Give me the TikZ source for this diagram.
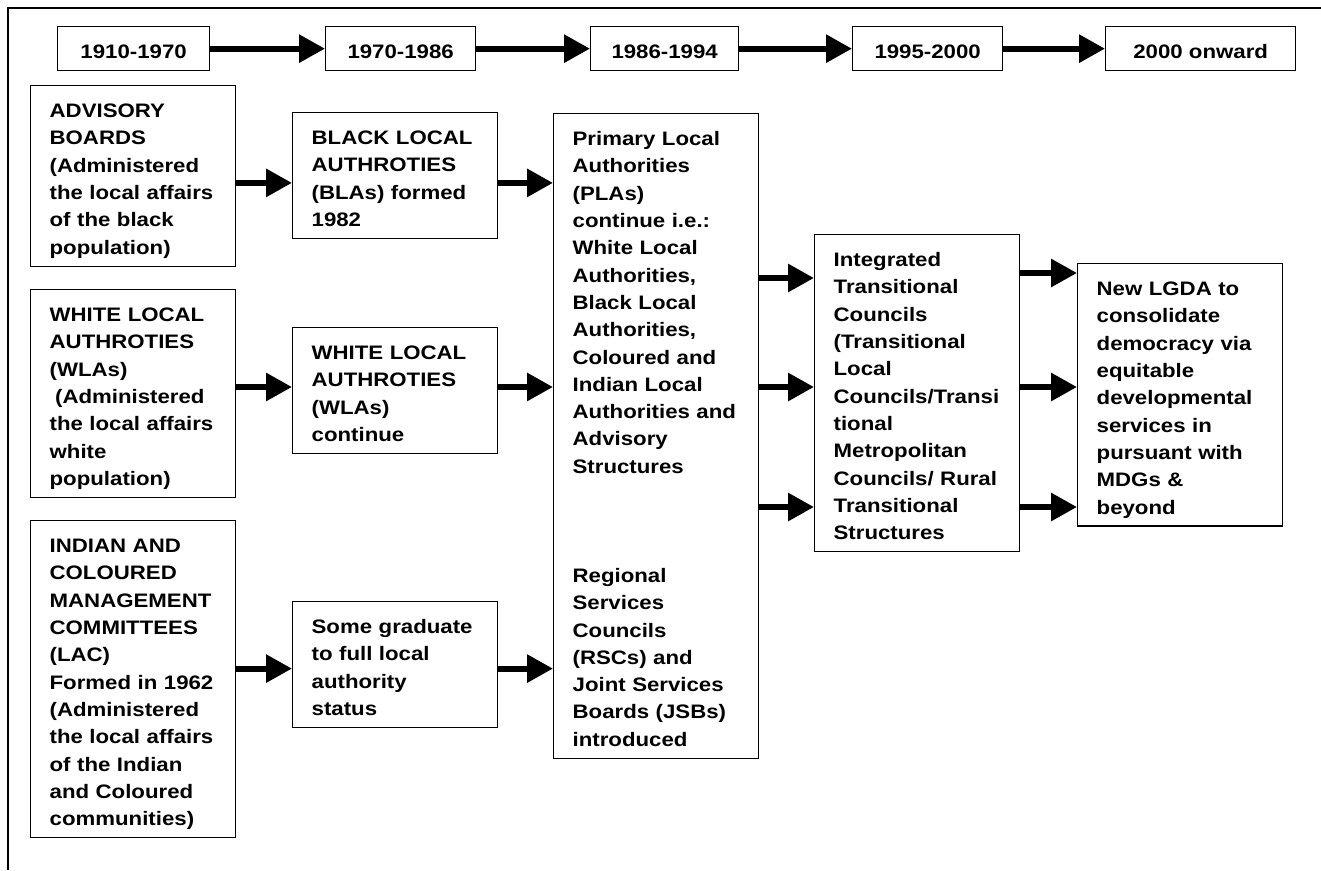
\documentclass[tikz,border=0pt]{standalone}
\usepackage{fontspec}
\setmainfont[FakeStretch=1.14]{Liberation Sans}
\usetikzlibrary{arrows.meta}

\tikzset{
  box/.style={draw, line width=1.3pt, anchor=north west, align=left, text width=167pt,
    inner xsep=19pt, inner ysep=0pt, text height=32pt,
    execute at end node={\rule[-12pt]{0pt}{12pt}}},
  yearbox/.style={draw, line width=1.3pt, anchor=north west, inner xsep=0pt, inner ysep=0pt,
    text height=32pt, text depth=12pt},
  arr/.style={line width=6pt, -{Triangle[length=26pt, width=27pt]}},
}

\begin{document}
\begin{tikzpicture}[x=1pt, y=-1pt, font=\fontsize{19.5}{27.3}\selectfont\bfseries]
				\useasboundingbox (0,0) rectangle (1321,870);
				% 1. frame (top and left side only)
				\draw[line width=2.7pt] (8,870) -- (8,8) -- (1321,8);
				
				% 2. periods
				\node[yearbox, minimum width=152pt] (y1) at (57,26) {1910-1970};
				\node[yearbox, minimum width=150pt] (y2) at (325,26) {1970-1986};
				\node[yearbox, minimum width=148pt] (y3) at (590,26) {1986-1994};
				\node[yearbox, minimum width=150pt] (y4) at (852,26) {1995-2000};
				\node[yearbox, minimum width=190pt] (y5) at (1105,26) {2000 onward};
				\draw[arr] (y1) -- (y2);
				\draw[arr] (y2) -- (y3);
				\draw[arr] (y3) -- (y4);
				\draw[arr] (y4) -- (y5);
				
				% 3. first column
				\node[box] (adv) at (30,85) {ADVISORY\\BOARDS\\(Administered\\the local affairs\\of the black\\population)};
				\node[box] (wlaold) at (30,289) {WHITE LOCAL\\AUTHROTIES\\(WLAs)\\\hspace*{0.28em}(Administered\\the local affairs\\white\\population)};
				\node[box] (lac) at (30,520) {INDIAN AND\\COLOURED\\MANAGEMENT\\COMMITTEES\\(LAC)\\Formed in 1962\\(Administered\\the local affairs\\of the Indian\\and Coloured\\communities)};
				
				% 4. second column
				\node[box] (bla) at (292,112) {BLACK LOCAL\\AUTHROTIES\\(BLAs) formed\\1982};
				\node[box] (wlacont) at (292,327) {WHITE LOCAL\\AUTHROTIES\\(WLAs)\\continue};
				\node[box] (grad) at (292,601) {Some graduate\\to full local\\authority\\status};
				
				% 5. third to fifth column
				\node[box] (pla) at (553,113) {Primary Local\\Authorities\\(PLAs)\\continue i.e.:\\White Local\\Authorities,\\Black Local\\Authorities,\\Coloured and\\Indian Local\\Authorities and\\Advisory\\Structures\\[81.9pt]Regional\\Services\\Councils\\(RSCs) and\\Joint Services\\Boards (JSBs)\\introduced};
				\node[box] (itc) at (814,234) {Integrated\\Transitional\\Councils\\(Transitional\\Local\\Councils/Transi\\tional\\Metropolitan\\Councils/ Rural\\Transitional\\Structures};
				\node[box] (lgda) at (1077,263) {New LGDA to\\consolidate\\democracy via\\equitable\\developmental\\services in\\pursuant with\\MDGs \&\\beyond};
				
				% 6. arrows between the columns
				\coordinate (r1) at (0,278);
				\coordinate (r2) at (0,387);
				\coordinate (r3) at (0,507);
				\draw[arr] ([yshift=-7pt]adv.east) -- ([yshift=-7pt]adv.east -| bla.west);
				\draw[arr] (wlaold.east |- r2) -- (wlacont.west |- r2);
				\draw[arr] ([yshift=-4pt]lac.east |- grad.west) -- ([yshift=-4pt]grad.west);
				\draw[arr] ([yshift=-7pt]adv.east -| bla.east) -- ([yshift=-7pt]adv.east -| pla.west);
				\draw[arr] (wlacont.east |- r2) -- (pla.west |- r2);
				\draw[arr] ([yshift=-4pt]grad.east) -- ([yshift=-4pt]grad.east -| pla.west);
				\draw[arr] (pla.east |- r1) -- (itc.west |- r1);
				\draw[arr] (pla.east |- r2) -- (itc.west |- r2);
				\draw[arr] (pla.east |- r3) -- (itc.west |- r3);
				\draw[arr] ([yshift=5pt]itc.east |- r1) -- ([yshift=5pt]lgda.west |- r1);
				\draw[arr] (itc.east |- r2) -- (lgda.west |- r2);
				\draw[arr] (itc.east |- r3) -- (lgda.west |- r3);
			\end{tikzpicture}
\end{document}
